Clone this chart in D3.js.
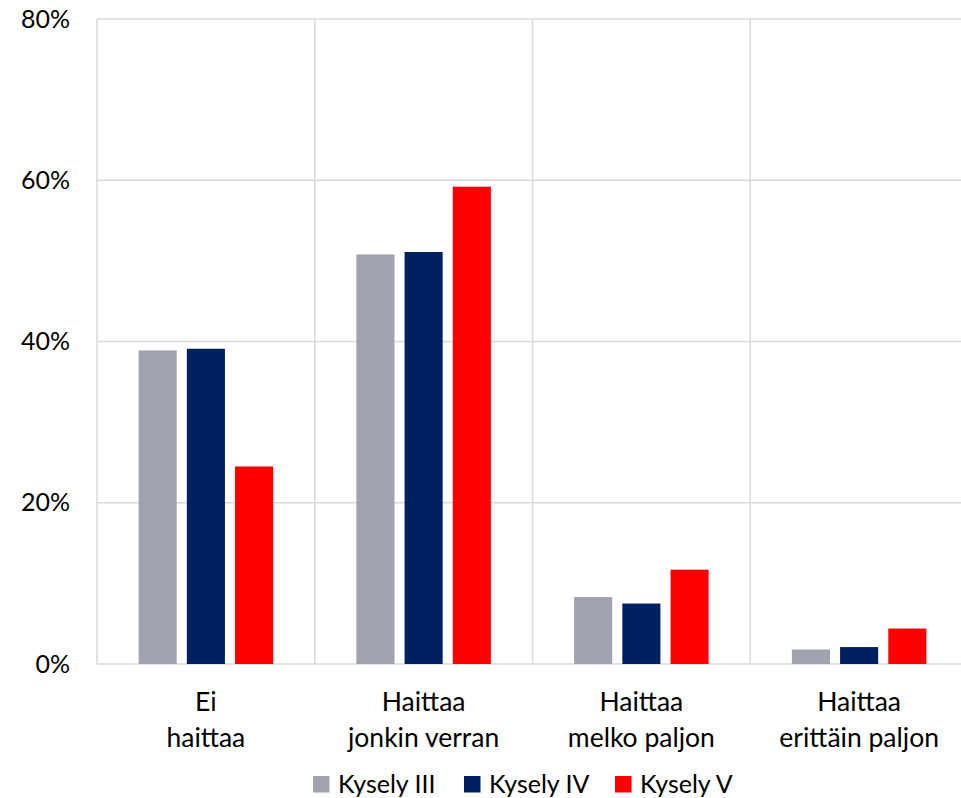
<!DOCTYPE html>
<html>
<head>
<meta charset="utf-8">
<script src="https://cdn.jsdelivr.net/npm/d3@7"></script>
<style>
  html, body { margin: 0; padding: 0; background: #fff; }
  svg text { font-family: Lato, "Open Sans", sans-serif; fill: #000; }
</style>
</head>
<body>
<svg id="chart" width="961" height="798"></svg>
<script>
// Survey answers: how much the issue disturbs, share of respondents per survey round
const categories = [["Ei", "haittaa"], ["Haittaa", "jonkin verran"], ["Haittaa", "melko paljon"], ["Haittaa", "erittäin paljon"]];
const seriesNames = ["Kysely III", "Kysely IV", "Kysely V"];
const seriesColors = ["#a0a2b0", "#002060", "#ff0000"];
const kyselyIII = [38.9, 50.8, 8.3, 1.8];
const kyselyIV = [39.1, 51.1, 7.5, 2.1];
const kyselyV = [24.5, 59.2, 11.7, 4.4];
const yTicks = [0, 20, 40, 60, 80];

const seriesValues = [kyselyIII, kyselyIV, kyselyV];

const svg = d3.select("#chart");
const plot = { left: 97, right: 968, top: 19, bottom: 664 };
const fontSize = 25;
const catFontSize = 26.5;

const x0 = d3.scaleBand()
  .domain(d3.range(categories.length))
  .range([plot.left, plot.right])
  .paddingInner(0).paddingOuter(0);

const x1 = d3.scaleBand()
  .domain(d3.range(seriesNames.length))
  .range([0, x0.bandwidth()])
  .paddingInner(0.21)
  .paddingOuter(0.864);

const y = d3.scaleLinear().domain([0, 80]).range([plot.bottom, plot.top]);

// gridlines
const grid = svg.append("g");
grid.selectAll("line.h").data(yTicks).join("line")
  .attr("x1", plot.left).attr("x2", plot.right)
  .attr("y1", d => y(d)).attr("y2", d => y(d))
  .attr("stroke", "#d9d9d9").attr("stroke-width", 1.5);
grid.selectAll("line.v").data(d3.range(categories.length + 1)).join("line")
  .attr("x1", i => i < categories.length ? x0(i) : plot.right)
  .attr("x2", i => i < categories.length ? x0(i) : plot.right)
  .attr("y1", plot.top).attr("y2", plot.bottom)
  .attr("stroke", "#d9d9d9").attr("stroke-width", 1.5);

// y axis labels
const yAxis = d3.axisLeft(y).tickValues(yTicks).tickFormat(d => d + "%").tickSize(0).tickPadding(27);
svg.append("g").attr("transform", `translate(${plot.left},0)`).call(yAxis)
  .call(g => g.select(".domain").remove())
  .call(g => g.selectAll("text").attr("font-size", fontSize).attr("font-family", "Lato, sans-serif").attr("fill", "#000"));

// bars
seriesValues.forEach((vals, s) => {
  svg.append("g").selectAll("rect").data(vals).join("rect")
    .attr("x", (d, i) => x0(i) + x1(s))
    .attr("width", x1.bandwidth())
    .attr("y", d => y(d))
    .attr("height", d => y(0) - y(d))
    .attr("fill", seriesColors[s]);
});

// category labels
const cat = svg.append("g");
categories.forEach((lines, i) => {
  const cx = x0(i) + x0.bandwidth() / 2;
  const t = cat.append("text").attr("text-anchor", "middle").attr("font-size", catFontSize);
  lines.forEach((ln, k) => {
    t.append("tspan").attr("x", cx).attr("y", 711 + k * 35.5).text(ln);
  });
});

// legend
const legendX = [313, 464, 615];
const leg = svg.append("g");
seriesNames.forEach((name, s) => {
  leg.append("rect").attr("x", legendX[s]).attr("y", 776).attr("width", 16.5).attr("height", 16.5).attr("fill", seriesColors[s]);
  leg.append("text").attr("x", legendX[s] + 25).attr("y", 793).attr("font-size", fontSize).text(name);
});
</script>
</body>
</html>
